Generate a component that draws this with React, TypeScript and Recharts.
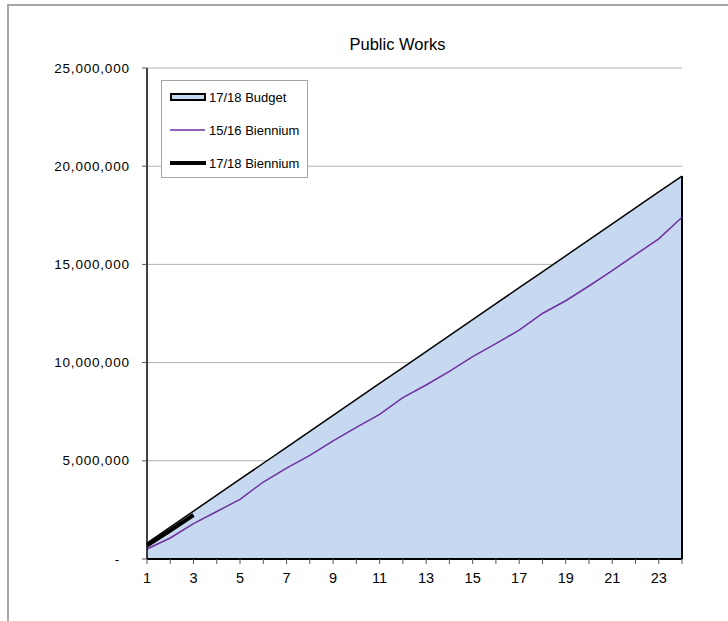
import {
  ComposedChart,
  Area,
  Line,
  XAxis,
  YAxis,
  CartesianGrid,
  ReferenceLine,
} from "recharts";

const months = [1, 2, 3, 4, 5, 6, 7, 8, 9, 10, 11, 12, 13, 14, 15, 16, 17, 18, 19, 20, 21, 22, 23, 24];
const budget1718 = [
  812500, 1625000, 2437500, 3250000, 4062500, 4875000, 5687500, 6500000, 7312500, 8125000, 8937500, 9750000,
  10562500, 11375000, 12187500, 13000000, 13812500, 14625000, 15437500, 16250000, 17062500, 17875000, 18687500,
  19500000,
];
const biennium1516 = [
  510000, 1070000, 1800000, 2420000, 3040000, 3920000, 4630000, 5280000, 6010000, 6700000, 7360000, 8220000,
  8860000, 9550000, 10300000, 10970000, 11650000, 12500000, 13150000, 13900000, 14680000, 15500000, 16300000,
  17400000,
];
const biennium1718 = [690000, 1450000, 2240000];
const xTickLabels = ["1", "3", "5", "7", "9", "11", "13", "15", "17", "19", "21", "23"];
const yTicks = [0, 5000000, 10000000, 15000000, 20000000, 25000000];
const seriesNames = ["17/18 Budget", "15/16 Biennium", "17/18 Biennium"];

const rows = months.map((m, i) => ({
  month: m,
  budget: budget1718[i],
  prev: biennium1516[i],
  cur: i < biennium1718.length ? biennium1718[i] : null,
}));

const FONT = '"Liberation Sans", Arial, sans-serif';
const lastMonth = months[months.length - 1];
const lastBudget = budget1718[budget1718.length - 1];

const YTick = (props: any) => {
  const { x, y, payload } = props;
  const v = payload.value as number;
  const label = v === 0 ? "-" : v.toLocaleString("en-US");
  return (
    <text
      x={x + (v === 0 ? -9 : 0.8)}
      y={y}
      dy={4.6}
      textAnchor="end"
      fontSize={13.5}
      letterSpacing={0.8}
      fontFamily={FONT}
      fill="#000"
    >
      {label}
    </text>
  );
};

// legend drawn as an overlay so it doesn't eat into the plot area
const LegendBox = () => {
  const kinds = ["area", "thin", "thick"];
  return (
    <div
      style={{
        position: "absolute",
        left: 161,
        top: 80,
        width: 145,
        height: 96,
        border: "1px solid #a6a6a6",
        background: "#fff",
        fontFamily: FONT,
        fontSize: 13,
      }}
    >
      {seriesNames.map((name, i) => (
        <div
          key={name}
          style={{ position: "absolute", left: 8, top: 7 + i * 33, height: 18, display: "flex", alignItems: "center" }}
        >
          <svg width={36} height={18} style={{ marginRight: 3 }}>
            {kinds[i] === "area" && <rect x={1} y={6} width={34} height={6} fill="#c6d9f0" stroke="#000" strokeWidth={2} />}
            {kinds[i] === "thin" && <line x1={0} x2={35} y1={9} y2={9} stroke="#7030a0" strokeWidth={1.5} />}
            {kinds[i] === "thick" && <line x1={0} x2={36} y1={9} y2={9} stroke="#000" strokeWidth={4} />}
          </svg>
          <span style={{ color: "#000" }}>{name}</span>
        </div>
      ))}
    </div>
  );
};

export default function App() {
  return (
    <div style={{ position: "relative", width: 728, height: 621, overflow: "hidden", background: "#fff" }}>
      <style>{"body{margin:0}"}</style>
      <div
        style={{
          position: "absolute",
          left: 7,
          top: 4,
          width: 800,
          height: 700,
          borderTop: "2px solid #a6a6a6",
          borderLeft: "2px solid #a6a6a6",
        }}
      />
      <div
        style={{
          position: "absolute",
          left: 297.5,
          top: 35,
          width: 200,
          textAlign: "center",
          fontFamily: FONT,
          fontSize: 16.5,
          color: "#000",
        }}
      >
        Public Works
      </div>
      <div style={{ position: "absolute", left: 0, top: 0 }}>
        <ComposedChart width={728} height={621} data={rows} margin={{ top: 68, right: 46, bottom: 32, left: 0 }}>
          <CartesianGrid horizontal vertical={false} stroke="#b3b3b3" strokeWidth={1} />
          <XAxis
            dataKey="month"
            type="number"
            domain={[1, 24]}
            ticks={months}
            interval={0}
            height={30}
            tickSize={5}
            tickMargin={9}
            axisLine={{ stroke: "#000", strokeWidth: 2 }}
            tickLine={{ stroke: "#555" }}
            tickFormatter={(v: number) => (xTickLabels.includes(String(v)) ? String(v) : "")}
            tick={{ fill: "#000", fontSize: 14.5, fontFamily: FONT }}
          />
          <YAxis
            type="number"
            domain={[0, 25000000]}
            ticks={yTicks}
            width={147}
            tickSize={5}
            tickMargin={13}
            axisLine={{ stroke: "#000", strokeWidth: 1.5 }}
            tickLine={{ stroke: "#555" }}
            tick={<YTick />}
          />
          <Area
            type="linear"
            dataKey="budget"
            name={seriesNames[0]}
            fill="#c6d9f0"
            fillOpacity={1}
            stroke="#000"
            strokeWidth={1.5}
            dot={false}
            activeDot={false}
            isAnimationActive={false}
          />
          <ReferenceLine
            segment={[
              { x: lastMonth, y: 0 },
              { x: lastMonth, y: lastBudget },
            ]}
            stroke="#000"
            strokeWidth={2}
          />
          <Line
            type="linear"
            dataKey="prev"
            name={seriesNames[1]}
            stroke="#7030a0"
            strokeWidth={1.5}
            dot={false}
            activeDot={false}
            isAnimationActive={false}
          />
          <Line
            type="linear"
            dataKey="cur"
            name={seriesNames[2]}
            stroke="#000"
            strokeWidth={4}
            dot={false}
            activeDot={false}
            connectNulls={false}
            isAnimationActive={false}
          />
        </ComposedChart>
      </div>
      <LegendBox />
    </div>
  );
}
